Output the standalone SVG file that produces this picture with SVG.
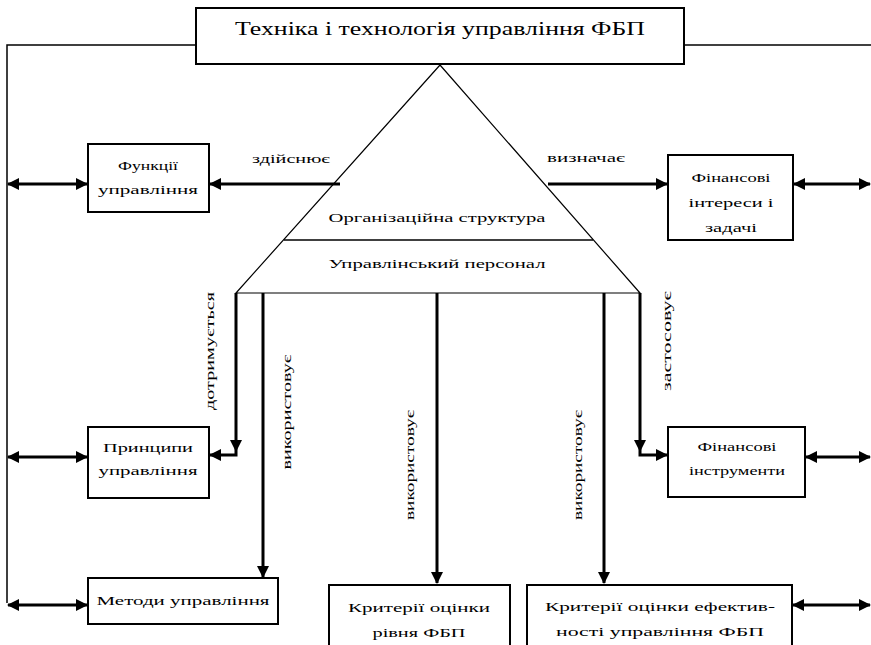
<svg xmlns="http://www.w3.org/2000/svg" width="871" height="645" viewBox="0 0 871 645">
<defs>
<style>
.box{fill:#fff;stroke:#000;stroke-width:2}
.t{font-family:"Liberation Serif","Times New Roman",serif;font-size:13px;fill:#000;text-anchor:middle}
.tt{font-family:"Liberation Serif","Times New Roman",serif;font-size:18px;fill:#000;text-anchor:middle}
.ln{fill:none;stroke:#000;stroke-width:1.5}
.ar{fill:none;stroke:#000;stroke-width:3}
.tri{fill:none;stroke:#000;stroke-width:1.2}
.head{fill:#000}
</style>
<marker id="ah" viewBox="0 0 12 12" refX="11" refY="6" markerWidth="12" markerHeight="12" orient="auto-start-reverse" markerUnits="userSpaceOnUse">
<path d="M0,0 L12,6 L0,12 z" fill="#000"/>
</marker>
</defs>
<rect width="871" height="645" fill="#fff"/>

<g id="connectors">
<!-- frame lines -->
<polyline class="ln" points="196,45 7,45 7,603"/>
<line class="ln" x1="684" y1="45" x2="871" y2="45"/>
<!-- triangle -->
<polygon class="tri" points="440,65 236,293 640,293"/>
<line class="ln" x1="284" y1="240" x2="593" y2="240"/>
<!-- zdiisnyuie / vyznachaie -->
<line class="ar" x1="340" y1="184" x2="210" y2="184" marker-end="url(#ah)"/>
<line class="ar" x1="548" y1="184" x2="667" y2="184" marker-end="url(#ah)"/>
<!-- double arrows left -->
<line class="ar" x1="8" y1="184" x2="87" y2="184" marker-start="url(#ah)" marker-end="url(#ah)"/>
<line class="ar" x1="8" y1="457" x2="87" y2="457" marker-start="url(#ah)" marker-end="url(#ah)"/>
<line class="ar" x1="8" y1="605" x2="87" y2="605" marker-start="url(#ah)" marker-end="url(#ah)"/>
<!-- double arrows right -->
<line class="ar" x1="794" y1="184" x2="870" y2="184" marker-start="url(#ah)" marker-end="url(#ah)"/>
<line class="ar" x1="806" y1="457" x2="870" y2="457" marker-start="url(#ah)" marker-end="url(#ah)"/>
<line class="ar" x1="793" y1="605" x2="870" y2="605" marker-start="url(#ah)" marker-end="url(#ah)"/>
<!-- dotrymuietsia -->
<path class="ar" d="M236,293 V455 H210" marker-end="url(#ah)"/>
<polygon class="head" points="230,440 242,440 236,452"/>
<!-- zastosovuie -->
<path class="ar" d="M640,293 V455 H667" marker-end="url(#ah)"/>
<polygon class="head" points="634,440 646,440 640,452"/>
<!-- vykorystovuie -->
<line class="ar" x1="263" y1="293" x2="263" y2="577" marker-end="url(#ah)"/>
<line class="ar" x1="437" y1="293" x2="437" y2="583" marker-end="url(#ah)"/>
<line class="ar" x1="604" y1="293" x2="604" y2="583" marker-end="url(#ah)"/>
<!-- labels -->
<text class="t" x="291" y="163" textLength="78" lengthAdjust="spacingAndGlyphs">здійснює</text>
<text class="t" x="586" y="162" textLength="78" lengthAdjust="spacingAndGlyphs">визначає</text>
<text class="t" transform="translate(214,351) rotate(-90)" textLength="118" lengthAdjust="spacingAndGlyphs">дотримується</text>
<text class="t" transform="translate(291,412) rotate(-90)" textLength="115" lengthAdjust="spacingAndGlyphs">використовує</text>
<text class="t" transform="translate(414,465) rotate(-90)" textLength="110" lengthAdjust="spacingAndGlyphs">використовує</text>
<text class="t" transform="translate(582,465) rotate(-90)" textLength="110" lengthAdjust="spacingAndGlyphs">використовує</text>
<text class="t" transform="translate(671,341) rotate(-90)" textLength="100" lengthAdjust="spacingAndGlyphs">застосовує</text>
</g>

<g id="title">
<rect class="box" x="196" y="8" width="488" height="56"/>
<text class="tt" x="440" y="35" textLength="410" lengthAdjust="spacingAndGlyphs">Техніка і технологія управління ФБП</text>
</g>

<g id="org">
<text class="t" x="437" y="222" textLength="217" lengthAdjust="spacingAndGlyphs">Організаційна структура</text>
<text class="t" x="437" y="268" textLength="217" lengthAdjust="spacingAndGlyphs">Управлінський персонал</text>
</g>

<g id="functions">
<rect class="box" x="88" y="144" width="121" height="68"/>
<text class="t" x="148" y="170" textLength="60" lengthAdjust="spacingAndGlyphs">Функції</text>
<text class="t" x="148" y="194" textLength="100" lengthAdjust="spacingAndGlyphs">управління</text>
</g>

<g id="interests">
<rect class="box" x="668" y="155" width="125" height="85"/>
<text class="t" x="731" y="182" textLength="79" lengthAdjust="spacingAndGlyphs">Фінансові</text>
<text class="t" x="731" y="207" textLength="85" lengthAdjust="spacingAndGlyphs">інтереси і</text>
<text class="t" x="731" y="232" textLength="52" lengthAdjust="spacingAndGlyphs">задачі</text>
</g>

<g id="principles">
<rect class="box" x="88" y="427" width="121" height="71"/>
<text class="t" x="148" y="452" textLength="90" lengthAdjust="spacingAndGlyphs">Принципи</text>
<text class="t" x="148" y="475" textLength="99" lengthAdjust="spacingAndGlyphs">управління</text>
</g>

<g id="instruments">
<rect class="box" x="668" y="427" width="137" height="70"/>
<text class="t" x="737" y="451" textLength="79" lengthAdjust="spacingAndGlyphs">Фінансові</text>
<text class="t" x="737" y="475" textLength="96" lengthAdjust="spacingAndGlyphs">інструменти</text>
</g>

<g id="methods">
<rect class="box" x="88" y="578" width="190" height="46"/>
<text class="t" x="183" y="605" textLength="173" lengthAdjust="spacingAndGlyphs">Методи управління</text>
</g>

<g id="criteria-level">
<rect class="box" x="329" y="585" width="181" height="70"/>
<text class="t" x="419" y="612" textLength="142" lengthAdjust="spacingAndGlyphs">Критерії оцінки</text>
<text class="t" x="419" y="637" textLength="93" lengthAdjust="spacingAndGlyphs">рівня ФБП</text>
</g>

<g id="criteria-efficiency">
<rect class="box" x="527" y="585" width="265" height="70"/>
<text class="t" x="660" y="611" textLength="230" lengthAdjust="spacingAndGlyphs">Критерії оцінки ефектив-</text>
<text class="t" x="660" y="636" textLength="208" lengthAdjust="spacingAndGlyphs">ності управління ФБП</text>
</g>
</svg>
